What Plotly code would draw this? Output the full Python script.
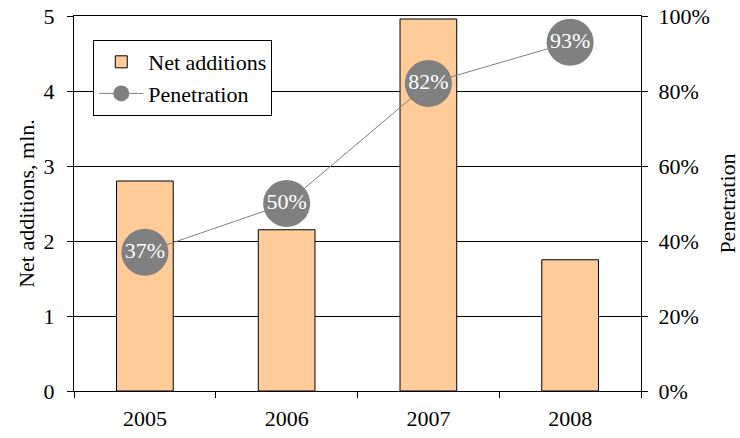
import plotly.graph_objects as go

years = ['2005', '2006', '2007', '2008']
net_additions = [2.8, 2.15, 4.96, 1.75]
penetration = [0.37, 0.50, 0.82, 0.93]
pen_labels = ['37%', '50%', '82%', '93%']

font = 'Liberation Serif'

fig = go.Figure()
fig.add_trace(go.Bar(x=years, y=net_additions, name='Net additions',
                     marker=dict(color='#FFCC99', line=dict(color='#000000', width=1))))
fig.add_trace(go.Scatter(x=years, y=penetration, name='Penetration', yaxis='y2',
                         mode='lines+markers+text', text=pen_labels,
                         textposition='middle center',
                         textfont=dict(color='white', size=22, family=font),
                         line=dict(color='#808080', width=1),
                         marker=dict(color='#808080', size=47)))

fig.update_layout(
    width=740, height=438,
    margin=dict(l=74, r=99, t=16, b=47),
    plot_bgcolor='white', paper_bgcolor='white',
    font=dict(family=font, size=22, color='black'),
    bargap=0.6,
    showlegend=True,
    legend=dict(x=0.034, y=0.936, xanchor='left', yanchor='top',
                bgcolor='white', bordercolor='black', borderwidth=1,
                itemwidth=44,
                font=dict(size=22, family=font), tracegroupgap=0),
    xaxis=dict(showline=True, linecolor='black', linewidth=1, ticks='outside',
               tickson='boundaries', ticklen=6, tickcolor='black', automargin=False,
               ticklabelstandoff=8, mirror=True),
    yaxis=dict(range=[0, 5], dtick=1, showline=True, linecolor='black', linewidth=1,
               ticks='outside', ticklen=6, tickcolor='black', automargin=False,
               ticklabelstandoff=8, ticklabeloverflow='allow',
               showgrid=True, gridcolor='black', gridwidth=1, zeroline=False,
               title=dict(text='Net additions, mln.', font=dict(size=22, family=font), standoff=2)),
    yaxis2=dict(range=[0, 1], dtick=0.2, tickformat='.0%', overlaying='y', side='right',
                showline=True, linecolor='black', linewidth=1, ticks='outside',
                ticklen=6, tickcolor='black', showgrid=False, zeroline=False, automargin=False,
                ticklabelstandoff=6, ticklabeloverflow='allow',
                title=dict(text='Penetration', font=dict(size=22, family=font), standoff=10)),
)

# drop the default 8px body margin so the figure sits at the page corner
fig.write_html("out.html", config={'displayModeBar': False},
               post_script="document.body.style.margin = '0';")
